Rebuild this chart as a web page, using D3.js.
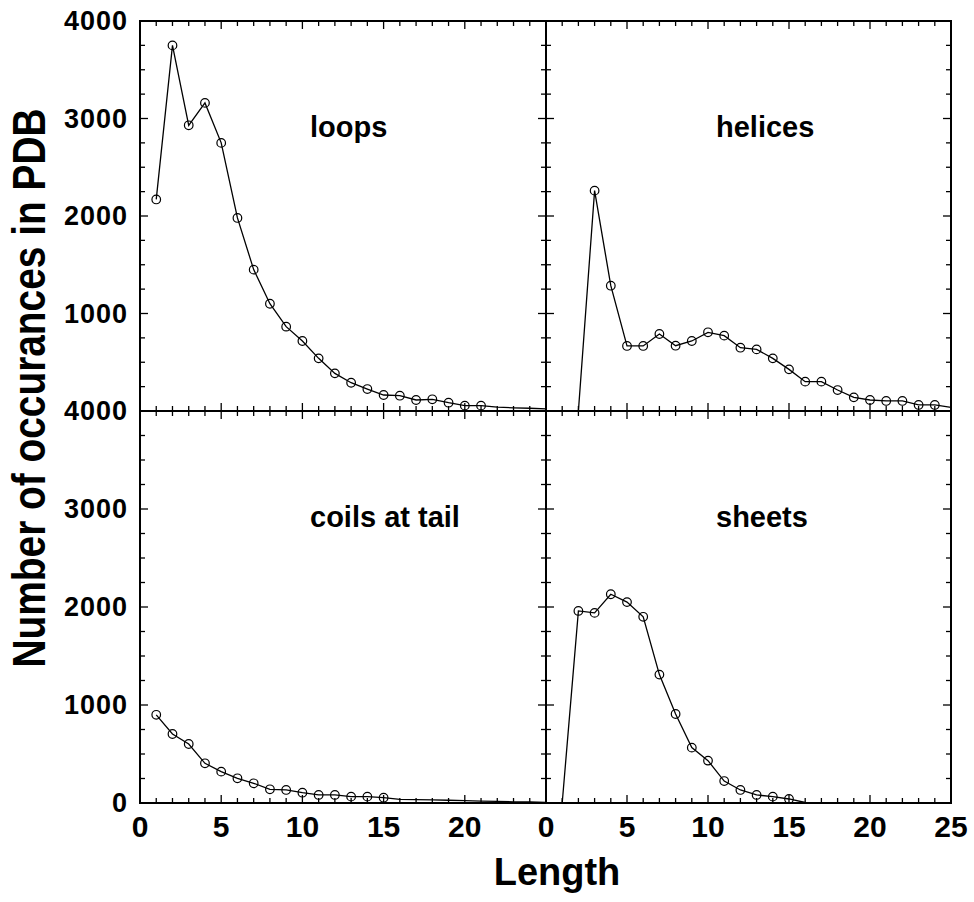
<!DOCTYPE html>
<html>
<head>
<meta charset="utf-8">
<script src="https://cdn.jsdelivr.net/npm/d3@7"></script>
<style>
  html, body { margin: 0; padding: 0; background: #fff; }
  svg text { font-family: "Liberation Sans", Arial, sans-serif; font-weight: bold; fill: #000; }
</style>
</head>
<body>
<svg id="chart" width="974" height="902"></svg>
<script>
// Lengths 1..25 (x axis)
const lengths = d3.range(1, 26);

// Occurrence counts per length, null where no line is drawn
const loops   = [2170, 3750, 2930, 3160, 2750, 1980, 1450, 1100, 865, 718, 540, 386, 290, 225, 164, 157, 113, 120, 85, 55, 55, 40, 33, 28, 22];
const helices = [null, 0, 2260, 1285, 667, 667, 790, 670, 718, 807, 773, 649, 632, 540, 427, 301, 301, 215, 140, 113, 103, 103, 62, 62, 38];
const coils   = [900, 704, 602, 405, 320, 252, 201, 140, 133, 105, 82, 82, 65, 65, 54, 38, 35, 32, 28, 24, 20, 16, 12, 10, 7];
const sheets  = [0, 1960, 1940, 2130, 2050, 1900, 1310, 908, 565, 432, 224, 133, 82, 65, 41, 5, 4, 3, 2, 2, 1, 1, 1, 0, 0];

// Panel names and which lengths carry a circle marker
const panelNames = ['loops', 'helices', 'coils at tail', 'sheets'];
const markerFrom = [1, 3, 1, 2];
const markerTo   = [21, 24, 15, 15];

const xTickLabels = [0, 5, 10, 15, 20, 25];
const yTickLabels = [0, 1000, 2000, 3000, 4000];

// Layout
const plotLeft = 140, midX = 546, plotRight = 951;
const plotTop = 21, midY = 411, plotBottom = 803;

const svg = d3.select('#chart');

const panels = [
    { name: panelNames[0], values: loops,   x0: plotLeft, x1: midX,      y0: plotTop, y1: midY },
    { name: panelNames[1], values: helices, x0: midX,     x1: plotRight, y0: plotTop, y1: midY },
    { name: panelNames[2], values: coils,   x0: plotLeft, x1: midX,      y0: midY,    y1: plotBottom },
    { name: panelNames[3], values: sheets,  x0: midX,     x1: plotRight, y0: midY,    y1: plotBottom }
];

panels.forEach((p, i) => {
    const x = d3.scaleLinear().domain([0, 25]).range([p.x0, p.x1]);
    const y = d3.scaleLinear().domain([0, 4000]).range([p.y1, p.y0]);
    const g = svg.append('g');

    // Ticks: x minor every 1, major every 5; y minor every 250, major every 1000
    const xt = d3.range(1, 25);
    const yt = d3.range(250, 4000, 250);

    xt.forEach(v => {
        const len = v % 5 === 0 ? 8 : 5;
        // bottom edge of panel, ticks inward
        g.append('line')
            .attr('x1', x(v)).attr('x2', x(v))
            .attr('y1', y(0)).attr('y2', y(0) - len)
            .attr('stroke', '#000').attr('stroke-width', 1.3);
        // top edge of panel, ticks inward
        g.append('line')
            .attr('x1', x(v)).attr('x2', x(v))
            .attr('y1', y(4000)).attr('y2', y(4000) + len)
            .attr('stroke', '#000').attr('stroke-width', 1.3);
    });

    yt.forEach(v => {
        const len = v % 1000 === 0 ? 8 : 5;
        g.append('line')
            .attr('x1', x(0)).attr('x2', x(0) + len)
            .attr('y1', y(v)).attr('y2', y(v))
            .attr('stroke', '#000').attr('stroke-width', 1.3);
        g.append('line')
            .attr('x1', x(25)).attr('x2', x(25) - len)
            .attr('y1', y(v)).attr('y2', y(v))
            .attr('stroke', '#000').attr('stroke-width', 1.3);
    });

    // Frame
    g.append('rect')
        .attr('x', p.x0).attr('y', p.y0)
        .attr('width', p.x1 - p.x0).attr('height', p.y1 - p.y0)
        .attr('fill', 'none').attr('stroke', '#000').attr('stroke-width', 2);

    // Data line
    const pts = lengths.map((l, k) => ({ l: l, v: p.values[k] }));
    const line = d3.line()
        .defined(d => d.v != null)
        .x(d => x(d.l))
        .y(d => y(d.v));

    g.append('path')
        .datum(pts)
        .attr('d', line)
        .attr('fill', 'none')
        .attr('stroke', '#000')
        .attr('stroke-width', 1.3);

    g.selectAll('circle')
        .data(pts.filter(d => d.v != null && d.l >= markerFrom[i] && d.l <= markerTo[i]))
        .enter()
        .append('circle')
        .attr('cx', d => x(d.l))
        .attr('cy', d => y(d.v))
        .attr('r', 4.3)
        .attr('fill', 'none')
        .attr('stroke', '#000')
        .attr('stroke-width', 1.2);

    // Panel label
    g.append('text')
        .attr('x', p.x0 + 170)
        .attr('y', p.y0 + 116)
        .attr('font-size', 29)
        .text(p.name);

    // Y tick labels on the left panels
    if (p.x0 === plotLeft) {
        yTickLabels.forEach(v => {
            if (p.y0 === plotTop && v === 0) return;
            g.append('text')
                .attr('x', 128)
                .attr('y', y(v))
                .attr('text-anchor', 'end')
                .attr('dominant-baseline', 'central')
                .attr('font-size', 27)
                .attr('letter-spacing', 1)
                .text(v);
        });
    }

    // X tick labels on the bottom panels
    if (p.y1 === plotBottom) {
        xTickLabels.forEach(v => {
            if (p.x0 === plotLeft && v === 25) return;
            g.append('text')
                .attr('x', x(v))
                .attr('y', 837)
                .attr('text-anchor', 'middle')
                .attr('font-size', 30)
                .text(v);
        });
    }
});

// Axis titles
svg.append('text')
    .attr('x', 557)
    .attr('y', 885)
    .attr('text-anchor', 'middle')
    .attr('font-size', 38)
    .text('Length');

svg.append('text')
    .attr('transform', 'translate(45,388) rotate(-90)')
    .attr('text-anchor', 'middle')
    .attr('font-size', 46)
    .attr('textLength', 559)
    .attr('lengthAdjust', 'spacingAndGlyphs')
    .text('Number of occurances in PDB');
</script>
</body>
</html>
